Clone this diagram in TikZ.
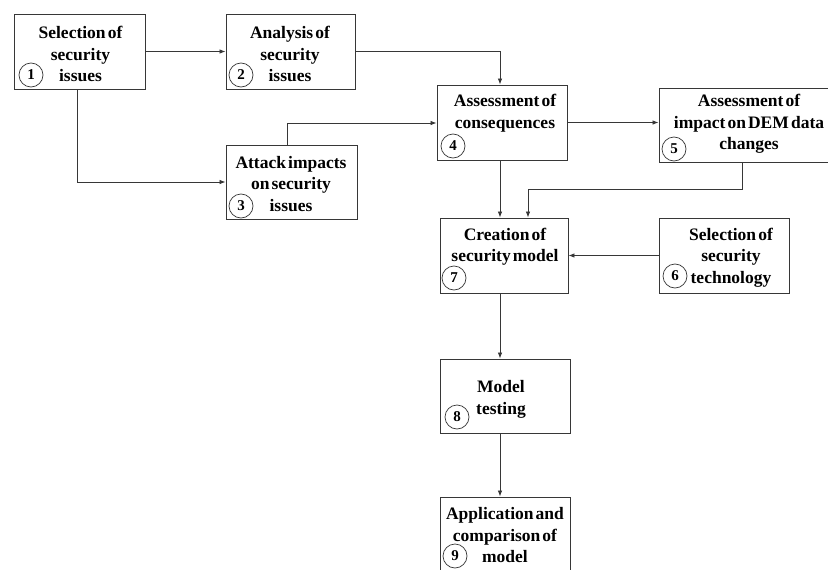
\documentclass[tikz,border=0pt]{standalone}
\usepackage{fontspec}
\setmainfont{Liberation Serif}[BoldFont={Liberation Serif Bold}]
\usetikzlibrary{arrows.meta,calc}
\definecolor{ln}{RGB}{55,55,55}
\newcommand{\lblfont}{\fontsize{17.5}{21.5}\selectfont\bfseries\spaceskip=0.12em plus 0.05em\relax}
\tikzset{
  x=1pt,y=-1pt,
  box/.style={draw=ln,line width=0.9pt,rectangle,inner sep=0pt,fill=white},
  lbl/.style={align=center,inner sep=0pt,font=\lblfont},
  num/.style={draw=ln,line width=0.7pt,circle,minimum size=24pt,inner sep=0pt,font=\fontsize{15}{15}\selectfont\bfseries},
  conn/.style={draw=ln,line width=0.8pt,-{Latex[length=6pt,width=4.5pt]}},
}
\begin{document}
\begin{tikzpicture}
\useasboundingbox (0,0) rectangle (828,570);
\clip (0,0) rectangle (828,570);
\fill[white] (0,0) rectangle (828,570);
% boxes
\node[box,minimum width=131pt,minimum height=75pt] (b1) at (79.5,51.5) {};
\node[box,minimum width=129pt,minimum height=75pt] (b2) at (290.5,51.5) {};
\node[box,minimum width=131pt,minimum height=74pt] (b3) at (291.5,182) {};
\node[box,minimum width=130pt,minimum height=75pt] (b4) at (502,122.5) {};
\node[box,minimum width=181pt,minimum height=74pt] (b5) at (749.5,125) {};
\node[box,minimum width=130pt,minimum height=75pt] (b6) at (724,255.5) {};
\node[box,minimum width=128pt,minimum height=75pt] (b7) at (504,255.5) {};
\node[box,minimum width=130pt,minimum height=74pt] (b8) at (505,396) {};
\node[box,minimum width=130pt,minimum height=78pt] (b9) at (505,536) {};
% texts
\node[lbl] (t1) at (80.5,54) {Selection of\\security\\issues};
\node[lbl] (t2) at (290,54) {Analysis of\\security\\issues};
\node[lbl] (t3) at (291,184) {Attack impacts\\on security\\issues};
\node[lbl] (t4) at (505,113) {Assessment of\\consequences};
\node[lbl] (t5) at (749,124) {Assessment of\\impact on DEM data\\changes};
\node[lbl] (t6) at (731,257.5) {Selection of\\security\\technology};
\node[lbl] (t7) at (505,246.5) {Creation of\\security model};
\node[lbl] (t8) at (501,399.5) {Model\\testing};
\node[lbl] (t9) at (505,535.5) {Application and\\comparison of\\model};
% numbers
\node[num] (n1) at (31,75) {1};
\node[num] (n2) at (241,75) {2};
\node[num] (n3) at (241,206) {3};
\node[num] (n4) at (453,146) {4};
\node[num] (n5) at (674,149) {5};
\node[num] (n6) at (675,276) {6};
\node[num] (n7) at (454,278) {7};
\node[num] (n8) at (457,417) {8};
\node[num] (n9) at (455,556) {9};
% connectors
\coordinate (p1) at (77,182);
\coordinate (p3) at (287,123);
\coordinate (p5) at (742,189);
\coordinate (q5) at (528,189);
\coordinate (col) at (500,0);
\draw[conn] (b1.east) -- (b2.west);
\draw[conn] (b1.south -| p1) -- (p1) -- (b3.west);
\draw[conn] (b2.east) -| (b4.north -| col);
\draw[conn] (b3.north -| p3) -- (p3) -- (p3 -| b4.west);
\draw[conn] (b4.east) -- (b4.east -| b5.west);
\draw[conn] (b4.south -| col) -- (b7.north -| col);
\draw[conn] (b5.south -| p5) -- (p5) -- (q5) -- (q5 |- b7.north);
\draw[conn] (b6.west) -- (b7.east);
\draw[conn] (b7.south -| col) -- (b8.north -| col);
\draw[conn] (b8.south -| col) -- (b9.north -| col);
\end{tikzpicture}
\end{document}
